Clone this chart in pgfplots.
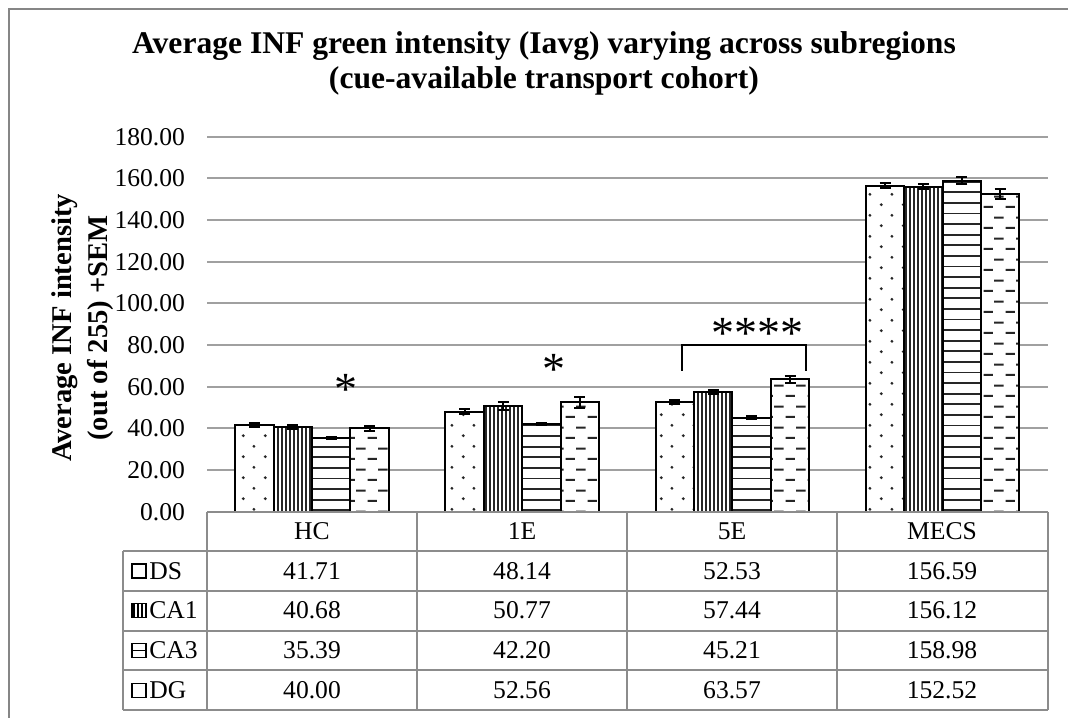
\documentclass[border=0pt]{standalone}
\usepackage{fontspec}
\setmainfont{Liberation Serif}
\usepackage{pgfplots}
\usepackage{pgfplotstable}
\pgfplotsset{compat=1.18}
\usetikzlibrary{patterns.meta}
\definecolor{gridc}{RGB}{160,160,160}
\definecolor{tabc}{RGB}{140,140,140}
\definecolor{framec}{RGB}{134,134,134}

\pgfdeclarepattern{
  name=DSdots, type=uncolored,
  bottom left={\pgfpoint{0pt}{0pt}}, top right={\pgfpoint{10.8pt}{10.7pt}},
  tile size={\pgfpoint{10.8pt}{10.7pt}},
  code={
    \pgfpathcircle{\pgfpoint{2.7pt}{2.7pt}}{0.8pt}
    \pgfpathcircle{\pgfpoint{8.1pt}{8.05pt}}{0.8pt}
    \pgfusepath{fill}
  }
}
\pgfdeclarepattern{
  name=CAonelines, type=uncolored,
  bottom left={\pgfpoint{-0.1pt}{-0.1pt}}, top right={\pgfpoint{2.1pt}{2.1pt}},
  tile size={\pgfpoint{2pt}{2pt}},
  code={
    \pgfsetlinewidth{0.7pt}
    \pgfpathmoveto{\pgfpoint{1pt}{-0.1pt}}
    \pgfpathlineto{\pgfpoint{1pt}{2.1pt}}
    \pgfusepath{stroke}
  }
}
\pgfdeclarepattern{
  name=CAthreelines, type=uncolored,
  bottom left={\pgfpoint{-0.1pt}{-0.1pt}}, top right={\pgfpoint{5.4pt}{5.4pt}},
  tile size={\pgfpoint{5.3pt}{5.3pt}},
  code={
    \pgfsetlinewidth{0.9pt}
    \pgfpathmoveto{\pgfpoint{-0.1pt}{2.65pt}}
    \pgfpathlineto{\pgfpoint{5.4pt}{2.65pt}}
    \pgfusepath{stroke}
  }
}
\pgfdeclarepattern{
  name=DGdashes, type=uncolored,
  bottom left={\pgfpoint{0pt}{0pt}}, top right={\pgfpoint{10.8pt}{10.6pt}},
  tile size={\pgfpoint{10.8pt}{10.6pt}},
  code={
    \pgfsetlinewidth{1.1pt}
    \pgfpathmoveto{\pgfpoint{0.3pt}{2.65pt}}
    \pgfpathlineto{\pgfpoint{5.05pt}{2.65pt}}
    \pgfpathmoveto{\pgfpoint{5.7pt}{7.95pt}}
    \pgfpathlineto{\pgfpoint{10.45pt}{7.95pt}}
    \pgfusepath{stroke}
  }
}

\pgfplotstableread{
x DS DSe CAone CAonee CAthree CAthreee DG DGe
0 41.71 0.8 40.68 0.8 35.39 0.5 40.00 1.0
1 48.14 1.2 50.77 2.0 42.20 0.6 52.56 2.6
2 52.53 0.9 57.44 1.0 45.21 0.9 63.57 1.6
3 156.59 1.0 156.12 1.4 158.98 1.5 152.52 2.2
}\data

\pgfplotsset{
  errs/.style={error bars/.cd, y dir=both, y explicit,
    error bar style={line width=1pt, black},
    error mark options={rotate=90, mark size=2.75pt, line width=1pt, black}},
  barst/.style={draw=black, line width=1pt, preaction={fill=white}, pattern color=black!85}
}

\begin{document}
\begin{tikzpicture}
\useasboundingbox (0,0) rectangle (534pt,358.5pt);
\begin{axis}[at={(103.5pt,102.6pt)}, anchor=south west, scale only axis,
  width=420.35pt, height=187.5pt,
  xmin=-0.5, xmax=3.5, ymin=0, ymax=180,
  ytick={0,20,...,180}, xtick=\empty,
  ymajorgrids, major grid style={gridc, line width=1pt},
  axis line style={draw=none}, major tick length=0pt,
  ybar=0pt, bar width=19.2pt, clip=false,
  yticklabel style={font=\fontsize{12.8}{15}\selectfont, xshift=-7.5pt},
  /pgf/number format/.cd, fixed, fixed zerofill, precision=2, assume math mode=true]
\addplot[barst, pattern=DSdots, errs] table[x=x, y=DS, y error=DSe]{\data};
\addplot[barst, pattern=CAonelines, errs] table[x=x, y=CAone, y error=CAonee]{\data};
\addplot[barst, pattern=CAthreelines, errs] table[x=x, y=CAthree, y error=CAthreee]{\data};
\addplot[barst, pattern=DGdashes, errs] table[x=x, y=DG, y error=DGe]{\data};
\draw[line width=1pt] (axis cs:1.762,67.6) -- (axis cs:1.762,80) -- (axis cs:2.348,80) -- (axis cs:2.348,67.6);
\node[font=\fontsize{23}{23}\selectfont, yshift=-3pt] at (axis cs:2.119,88.7) {****};
\node[font=\fontsize{23}{23}\selectfont, yshift=-3pt] at (axis cs:0.162,61.8) {*};
\node[font=\fontsize{23}{23}\selectfont, yshift=-3pt] at (axis cs:1.152,71.4) {*};
\end{axis}
\begin{scope}[x=0.5pt, y=-0.5pt, shift={(0pt,358.5pt)}]
\draw[framec, line width=1pt] (9,9.5) rectangle (1090,740);
\draw[tabc, line width=1pt] (207,512) -- (1047.7,512);
\foreach \yy in {551,590.75,630.5,670.25,710} {\draw[tabc, line width=1pt] (123,\yy) -- (1047.7,\yy);}
\draw[tabc, line width=1pt] (123,551) -- (123,710);
\foreach \xx in {207,417,627,837,1047.7} {\draw[tabc, line width=1pt] (\xx,512) -- (\xx,710);}
\begin{scope}[every node/.style={font=\fontsize{12.8}{15}\selectfont}]
\node at (312,531.5) {HC};
\node at (522,531.5) {1E};
\node at (732,531.5) {5E};
\node at (942,531.5) {MECS};
\node at (312,570.9) {41.71};
\node at (522,570.9) {48.14};
\node at (732,570.9) {52.53};
\node at (942,570.9) {156.59};
\node at (312,610.6) {40.68};
\node at (522,610.6) {50.77};
\node at (732,610.6) {57.44};
\node at (942,610.6) {156.12};
\node at (312,650.4) {35.39};
\node at (522,650.4) {42.20};
\node at (732,650.4) {45.21};
\node at (942,650.4) {158.98};
\node at (312,690.1) {40.00};
\node at (522,690.1) {52.56};
\node at (732,690.1) {63.57};
\node at (942,690.1) {152.52};
\node[anchor=west, inner sep=0pt] at (149,570.9) {DS};
\node[anchor=west, inner sep=0pt] at (149,610.6) {CA1};
\node[anchor=west, inner sep=0pt] at (149,650.4) {CA3};
\node[anchor=west, inner sep=0pt] at (149,690.1) {DG};
\end{scope}
\draw[black, line width=0.6pt, fill=white] (132,564) rectangle (146,578);
\draw[black, line width=0.6pt, fill=white] (132,603.6) rectangle (146,617.6);
\fill[pattern=CAonelines, pattern color=black] (132,603.6) rectangle (146,617.6);
\draw[black, line width=0.6pt] (132,603.6) rectangle (146,617.6);
\draw[black, line width=0.6pt, fill=white] (132,643.4) rectangle (146,657.4);
\draw[black, line width=0.6pt] (132,650.4) -- (146,650.4);
\draw[black, line width=0.6pt, fill=white] (132,683.1) rectangle (146,697.1);
\node[rotate=90, align=center, font=\bfseries\fontsize{14.3}{18}\selectfont] at (83,328) {Average INF intensity\\(out of 255) +SEM};
\node[align=center, font=\bfseries\fontsize{15.8}{17.5}\selectfont] at (544,63) {Average INF green intensity (Iavg) varying across subregions\\(cue-available transport cohort)};
\end{scope}
\end{tikzpicture}
\end{document}
